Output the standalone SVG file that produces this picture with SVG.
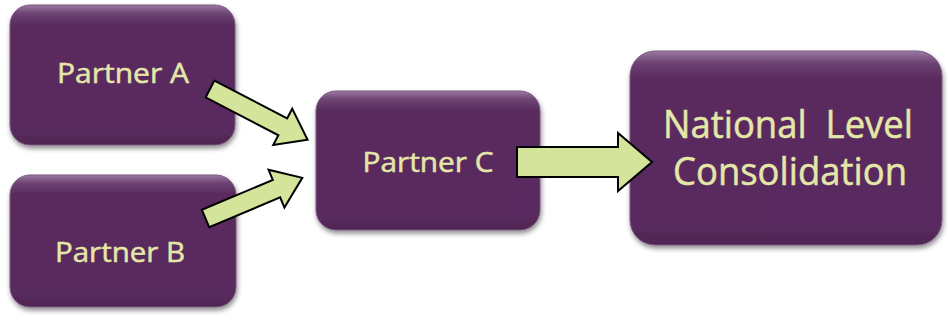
<svg xmlns="http://www.w3.org/2000/svg" width="948" height="320" viewBox="0 0 948 320">
<defs>
<filter id="sh" x="-10%" y="-10%" width="125%" height="130%">
<feGaussianBlur in="SourceAlpha" stdDeviation="2.5"/>
<feOffset dx="1" dy="3" result="b"/>
<feComponentTransfer><feFuncA type="linear" slope="0.45"/></feComponentTransfer>
<feMerge><feMergeNode/><feMergeNode in="SourceGraphic"/></feMerge>
</filter>
<linearGradient id="hl" x1="0" y1="0" x2="0" y2="1">
<stop offset="0" stop-color="#9a7aa2"/>
<stop offset="0.06" stop-color="#6e4474"/>
<stop offset="0.14" stop-color="#5a2c5f"/>
<stop offset="0.9" stop-color="#592b5e"/>
<stop offset="1" stop-color="#4e2453"/>
</linearGradient>
</defs>
<style>
.box{fill:url(#hl);stroke:#7a5a80;stroke-width:1;filter:url(#sh)}
.lbl{font-family:"Open Sans",Lato,"Liberation Sans",sans-serif;fill:#e4e7a8;stroke:#e4e7a8;stroke-width:0.5;text-anchor:middle;font-variant-ligatures:none}
.arr{fill:#d4e59b;stroke:#000;stroke-width:2;stroke-linejoin:miter}
</style>
<g id="partnerA">
<rect class="box" x="10" y="5" width="225" height="140" rx="20"/>
<text class="lbl" x="123" y="83" font-size="27" textLength="132" lengthAdjust="spacingAndGlyphs">Partner A</text>
</g>
<g id="partnerB">
<rect class="box" x="10" y="175" width="226" height="132" rx="20"/>
<text class="lbl" x="120" y="262" font-size="27" textLength="130" lengthAdjust="spacingAndGlyphs">Partner B</text>
</g>
<g id="partnerC">
<rect class="box" x="316" y="91" width="224" height="139" rx="20"/>
<text class="lbl" x="428" y="172" font-size="27" textLength="131" lengthAdjust="spacingAndGlyphs">Partner C</text>
</g>
<g id="national">
<rect class="box" x="630" y="51" width="312" height="194" rx="25"/>
<text class="lbl" x="788" y="138" font-size="38" textLength="250" lengthAdjust="spacingAndGlyphs" xml:space="preserve">National  Level</text>
<text class="lbl" x="790" y="185" font-size="38" textLength="234" lengthAdjust="spacingAndGlyphs">Consolidation</text>
</g>
<g id="connectors">
<path class="arr" transform="translate(210,89) rotate(27.5)" d="M0,-9.5 L82,-9.5 L82,-20.5 L110,0 L82,20.5 L82,9.5 L0,9.5 Z"/>
<path class="arr" transform="translate(205.5,218.5) rotate(-22.8)" d="M0,-9.5 L77,-9.5 L77,-20.5 L105,0 L77,20.5 L77,9.5 L0,9.5 Z"/>
<path class="arr" d="M517,147 L618,147 L618,133 L652,162 L618,191 L618,177 L517,177 Z"/>
</g>
</svg>
